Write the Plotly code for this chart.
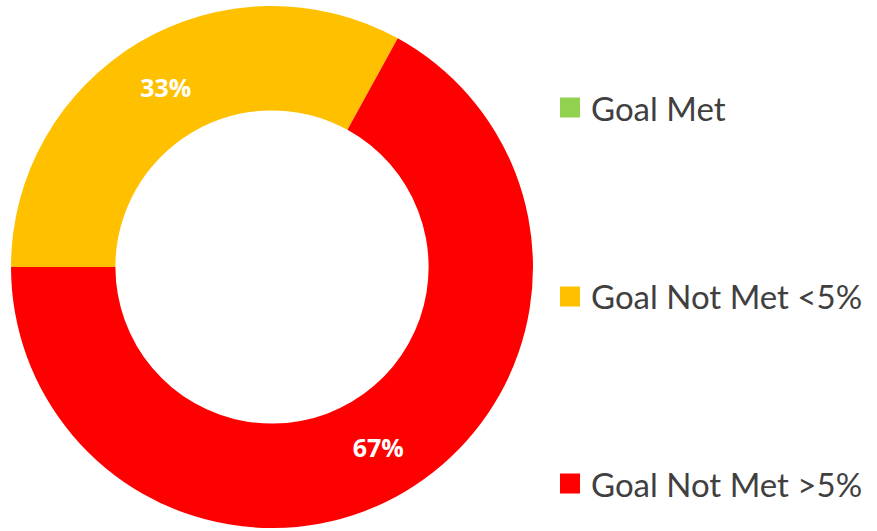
import plotly.graph_objects as go

labels = ["Goal Met", "Goal Not Met <5%", "Goal Not Met >5%"]
values = [0, 33, 67]
colors = ["#92D050", "#FFC000", "#FF0000"]

W, H = 877, 531
cx, cy, r = 272, 267, 261

fig = go.Figure(go.Pie(
    labels=labels, values=values, sort=False, direction="clockwise",
    rotation=270, hole=0.60,
    marker=dict(colors=colors, line=dict(width=0)),
    texttemplate="%{percent:.0%}", textposition="inside",
    insidetextorientation="horizontal",
    textfont=dict(family="Open Sans", size=25, color="white", weight="bold"),
    domain=dict(x=[(cx - r) / W, (cx + r) / W], y=[(H - cy - r) / H, (H - cy + r) / H]),
    showlegend=False, hoverinfo="label+percent",
))

legend_y = [107.5, 296.5, 483.5]
shapes, annotations = [], []
for lab, col, yy in zip(labels, colors, legend_y):
    shapes.append(dict(type="rect", xref="paper", yref="paper",
                       x0=560 / W, x1=580 / W, y0=(H - yy - 10) / H, y1=(H - yy + 10) / H,
                       fillcolor=col, line=dict(width=0)))
    annotations.append(dict(text=lab, xref="paper", yref="paper", x=589 / W, y=(H - yy) / H,
                            xanchor="left", yanchor="middle", showarrow=False,
                            font=dict(family="Lato", size=33, color="#404040")))

fig.update_layout(width=W, height=H, margin=dict(l=0, r=0, t=0, b=0),
                  paper_bgcolor="white", plot_bgcolor="white",
                  shapes=shapes, annotations=annotations)
fig.write_html("out.html")
